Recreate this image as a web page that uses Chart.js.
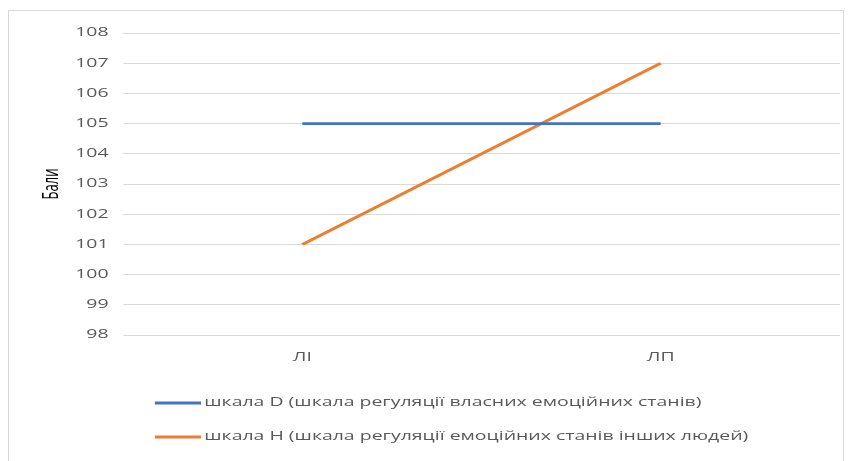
<!DOCTYPE html>
<html>
<head>
<meta charset="utf-8">
<script src="https://cdn.jsdelivr.net/npm/chart.js@4/dist/chart.umd.min.js"></script>
<style>
  html, body { margin: 0; padding: 0; background: #ffffff; }
  #wrap { position: relative; width: 856px; height: 461px; overflow: hidden; }
  canvas { display: block; }
</style>
</head>
<body>
<div id="wrap"><canvas id="chart" width="528" height="461"></canvas></div>
<script>
// Groups on the category axis
const categories = ['ЛІ', 'ЛП'];
// Mean scores per scale
const scaleD = [105, 105];
const scaleH = [101, 107];
const seriesNames = [
  'шкала D (шкала регуляції власних емоційних станів)',
  'шкала H (шкала регуляції емоційних станів інших людей)'
];
const yMin = 98, yMax = 108, yStep = 1;
const yTitle = 'Бали';

const FONT = "'Open Sans', 'Liberation Sans', sans-serif";
const TEXT_GRAY = '#595959';

// The chart is laid out on a narrow logical canvas and drawn
// stretched horizontally onto the full-width bitmap.
const OUT_W = 856, OUT_H = 461;
const LOGICAL_W = 528;
const SX = OUT_W / LOGICAL_W;

// White background, thin frame (in device pixels), then the stretch transform
const framePlugin = {
  id: 'frame',
  beforeDraw(chart) {
    const ctx = chart.ctx;
    ctx.setTransform(1, 0, 0, 1, 0, 0);
    ctx.fillStyle = '#ffffff';
    ctx.fillRect(0, 0, OUT_W, OUT_H);
    ctx.strokeStyle = '#d9d9d9';
    ctx.lineWidth = 1;
    ctx.strokeRect(8.5, 10.5, 835, 460);
    ctx.setTransform(SX, 0, 0, 1, 0, 0);
  }
};

// Legend listed one entry per row, left-aligned
const stackedLegend = {
  id: 'stackedLegend',
  afterDraw(chart) {
    const ctx = chart.ctx;
    const x0 = 95.5, lineLen = 28.5, rowY = [403, 437];
    ctx.save();
    ctx.font = '12px ' + FONT;
    ctx.textBaseline = 'middle';
    chart.data.datasets.forEach((ds, i) => {
      const y = rowY[i];
      ctx.strokeStyle = ds.borderColor;
      ctx.lineWidth = 3;
      ctx.beginPath();
      ctx.moveTo(x0, y);
      ctx.lineTo(x0 + lineLen, y);
      ctx.stroke();
      ctx.fillStyle = TEXT_GRAY;
      ctx.fillText(ds.label, x0 + lineLen + 2, y);
    });
    ctx.restore();
  }
};

const canvas = document.getElementById('chart');
const chart = new Chart(canvas, {
  type: 'line',
  data: {
    labels: categories,
    datasets: [
      { label: seriesNames[0], data: scaleD, borderColor: '#4472C4', backgroundColor: '#4472C4',
        borderWidth: 2.6, pointRadius: 0, tension: 0 },
      { label: seriesNames[1], data: scaleH, borderColor: '#ED7D31', backgroundColor: '#ED7D31',
        borderWidth: 2.6, pointRadius: 0, tension: 0 }
    ]
  },
  options: {
    responsive: false,
    animation: false,
    devicePixelRatio: 1,
    layout: { padding: { left: 24, right: 10, top: 33, bottom: 86 } },
    plugins: {
      legend: { display: false },
      tooltip: { enabled: false }
    },
    scales: {
      x: {
        offset: true,
        grid: { display: false, drawTicks: false },
        border: { display: false },
        ticks: { color: TEXT_GRAY, font: { family: FONT, size: 12 }, padding: 15 },
        afterFit(s) { s.height = 40; }
      },
      y: {
        min: yMin, max: yMax,
        grid: { color: '#d9d9d9', lineWidth: 1, drawTicks: false },
        border: { display: false },
        ticks: { stepSize: yStep, color: TEXT_GRAY, font: { family: FONT, size: 12 }, padding: 9 },
        title: { display: true, text: yTitle, color: '#000000', font: { family: FONT, size: 13 }, padding: 0 },
        afterFit(s) { s.width = 52; }
      }
    }
  },
  plugins: [framePlugin, stackedLegend]
});

// Widen the bitmap to the output size and redraw through the stretch transform
canvas.width = OUT_W;
canvas.height = OUT_H;
canvas.style.width = OUT_W + 'px';
canvas.style.height = OUT_H + 'px';
chart.draw();
</script>
</body>
</html>
